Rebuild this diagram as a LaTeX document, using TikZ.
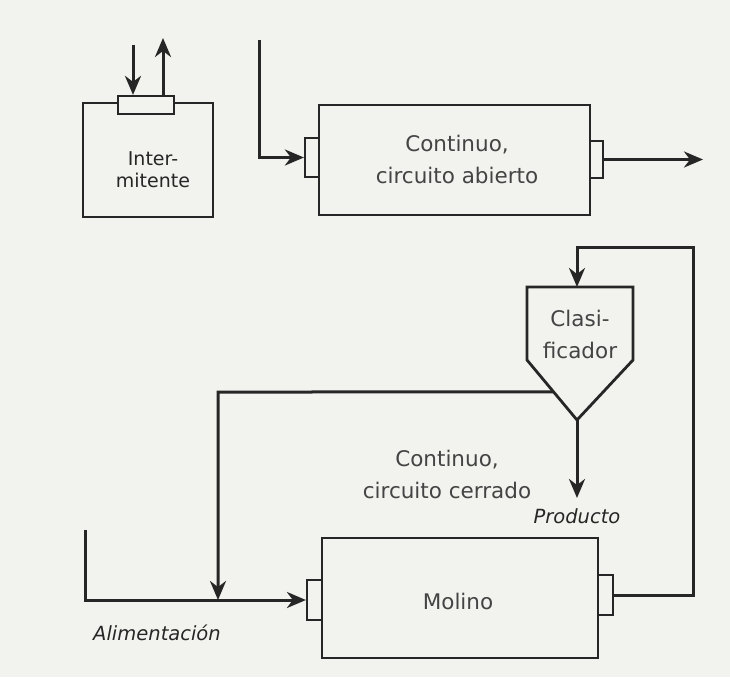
\documentclass[tikz,border=0pt]{standalone}
\usepackage{fontspec}
\setmainfont{DejaVu Sans}
\usetikzlibrary{arrows.meta,calc}
\definecolor{paper}{HTML}{F2F2EE}
\definecolor{ink}{HTML}{262626}
\definecolor{print}{HTML}{444444}
\begin{document}
\begin{tikzpicture}[x=1pt,y=-1pt,
  line/.style={draw=ink,line width=3pt},
  flow/.style={line,-{Stealth[length=19pt,width=16pt,inset=6pt]}},
  unit/.style={draw=ink,line width=2.8pt,inner sep=0pt},
  port/.style={draw=ink,line width=2.2pt,inner sep=0pt,fill=paper},
  lbl/.style={text=print,font=\fontsize{21.5}{32}\selectfont,align=center},
  tag/.style={text=ink,font=\itshape\fontsize{19.5}{22}\selectfont}]

% page
\fill[paper] (0,0) rectangle (730,677);
\useasboundingbox (0,0) rectangle (730,677);

% batch mill
\node[unit,minimum width=130pt,minimum height=114pt] (batch) at (148,160) {};
\node[port,minimum width=56pt,minimum height=18pt] (cap) at (146,105) {};
\node[lbl,text=ink,font=\fontsize{19}{22}\selectfont] (batchtxt) at (153,170) {Inter-\\mitente};
\coordinate (batchin) at (133,45);
\coordinate (batchout) at (163,38);
\draw[flow] (batchin) -- (batchin |- cap.north);
\draw[flow] (batchout |- cap.north) -- (batchout);

% continuous, open circuit
\node[unit,minimum width=271pt,minimum height=110pt] (open) at (454.5,160) {};
\node[port,minimum width=14pt,minimum height=39pt] (openin) at (312,157.5) {};
\node[port,minimum width=13pt,minimum height=37pt] (openout) at (596.5,159.5) {};
\node[lbl] (opentxt) at (457,159) {Continuo,\\circuito abierto};
\coordinate (openfeed) at (259,40);
\coordinate (openprod) at (703,159.5);
\draw[flow] (openfeed) |- (openin.west);
\draw[flow] (openout.east) -- (openprod);

% classifier
\coordinate (cltl) at (527,287);
\coordinate (cltr) at (633,287);
\coordinate (clr) at (633,360);
\coordinate (clap) at (577,420);
\coordinate (cll) at (527,360);
\draw[line,line width=2.8pt,line join=miter] (cltl) -- (cltr) -- (clr) -- (clap) -- (cll) -- cycle;
\node[lbl] (cltxt) at (580,334) {Clasi-\\ficador};
\coordinate (cltop) at (577,287);
\coordinate (clside) at ($(cll)!0.533!(clap)$);

% mill
\node[unit,minimum width=276pt,minimum height=120pt] (mill) at (460,598) {};
\node[port,minimum width=15pt,minimum height=40pt] (millin) at (314.5,600) {};
\node[port,minimum width=15pt,minimum height=40pt] (millout) at (605.5,595) {};
\node[lbl] (milltxt) at (458,601) {Molino};
\node[lbl] (closedtxt) at (447,474) {Continuo,\\circuito cerrado};

% closed circuit streams
\coordinate (feed) at (85,530);
\coordinate (ret) at (218,392);
\coordinate (riser) at (693,247);
\coordinate (prod) at (577,498);
\draw[flow] (feed) |- (millin.west);
\draw[flow] (clside) -- (ret) -- (ret |- millin.west);
\draw[flow] (millout.east) -| (riser) -| (cltop);
\draw[flow] (clap) -- (prod);
\node[tag] (prodtxt) at (577,516) {Producto};
\node[tag] (feedtxt) at (157,633) {Alimentación};
\end{tikzpicture}
\end{document}
